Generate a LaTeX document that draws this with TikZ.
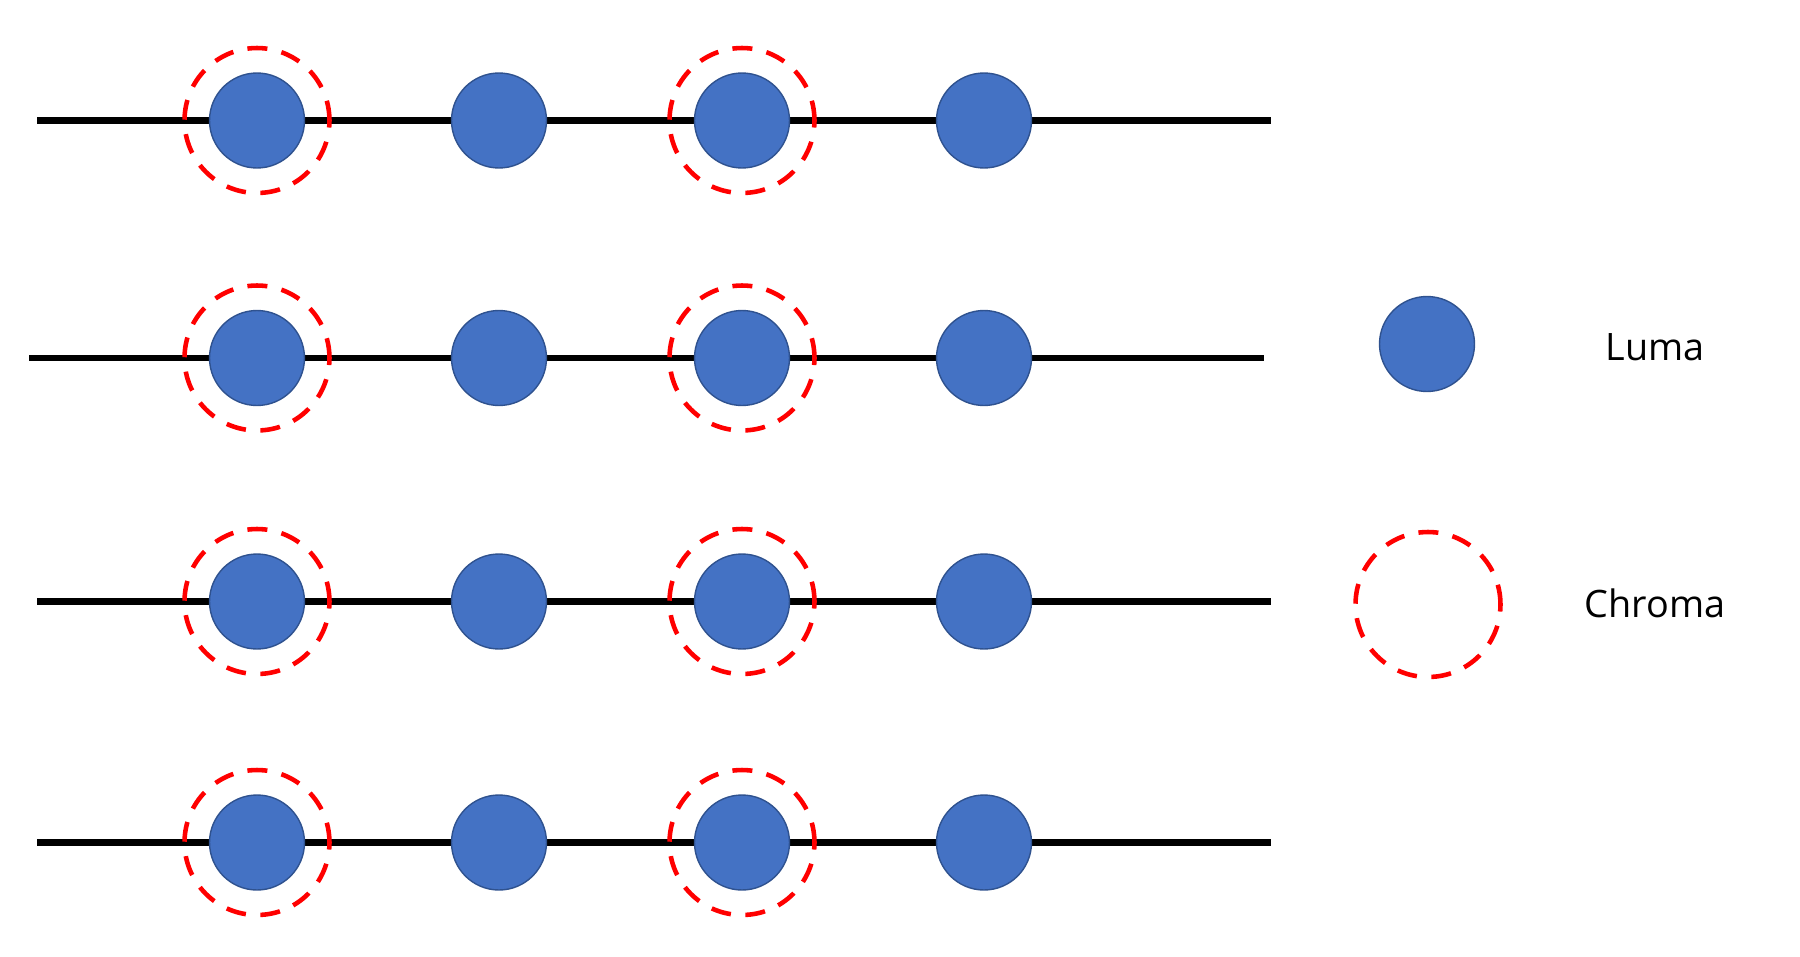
\documentclass[tikz,border=0pt]{standalone}
\usepackage{fontspec}
\setmainfont{Open Sans}
\usepackage{tikz}
\definecolor{lumafill}{HTML}{4472C4}
\definecolor{lumaline}{HTML}{2F528F}
\definecolor{chromared}{HTML}{FF0000}

\begin{document}
\begin{tikzpicture}[
  x=0.02cm, y=-0.02cm,
  font=\fontsize{21.5}{26}\selectfont,
  luma/.style={circle, draw=lumaline, line width=0.8pt, fill=lumafill, minimum size=1.9cm, inner sep=0pt},
  chroma/.style={circle, draw=chromared, line width=2.6pt, dash pattern=on 0.4cm off 0.29cm, minimum size=2.9cm, inner sep=0pt},
  row/.style={line width=3.6pt, black},
  lbl/.style={anchor=center, inner sep=0pt},
]
\useasboundingbox (0,0) rectangle (1800,957);

% rows of samples
\coordinate (r1w) at (37,120.5);  \coordinate (r1e) at (1271,120.5);
\coordinate (r2w) at (29,358);    \coordinate (r2e) at (1264,358);
\coordinate (r3w) at (37,601.5);  \coordinate (r3e) at (1271,601.5);
\coordinate (r4w) at (37,842.5);  \coordinate (r4e) at (1271,842.5);
\draw[row] (r1w) -- (r1e);
\draw[row] (r2w) -- (r2e);
\draw[row] (r3w) -- (r3e);
\draw[row] (r4w) -- (r4e);

\node[luma] (l11) at (257,120.5) {}; \node[luma] (l12) at (499,120.5) {};
\node[luma] (l13) at (742,120.5) {}; \node[luma] (l14) at (984,120.5) {};
\node[luma] (l21) at (257,358) {};   \node[luma] (l22) at (499,358) {};
\node[luma] (l23) at (742,358) {};   \node[luma] (l24) at (984,358) {};
\node[luma] (l31) at (257,601.5) {}; \node[luma] (l32) at (499,601.5) {};
\node[luma] (l33) at (742,601.5) {}; \node[luma] (l34) at (984,601.5) {};
\node[luma] (l41) at (257,842.5) {}; \node[luma] (l42) at (499,842.5) {};
\node[luma] (l43) at (742,842.5) {}; \node[luma] (l44) at (984,842.5) {};

\node[chroma] (c11) at (l11) {}; \node[chroma] (c13) at (l13) {};
\node[chroma] (c21) at (l21) {}; \node[chroma] (c23) at (l23) {};
\node[chroma] (c31) at (l31) {}; \node[chroma] (c33) at (l33) {};
\node[chroma] (c41) at (l41) {}; \node[chroma] (c43) at (l43) {};

% legend
\node[luma] (keyluma) at (1427,344) {};
\node[chroma] (keychroma) at (1428,604.5) {};
\node[lbl] (txtluma) at (1655,347) {Luma};
\node[lbl] (txtchroma) at (1655,603) {Chroma};
\end{tikzpicture}
\end{document}
